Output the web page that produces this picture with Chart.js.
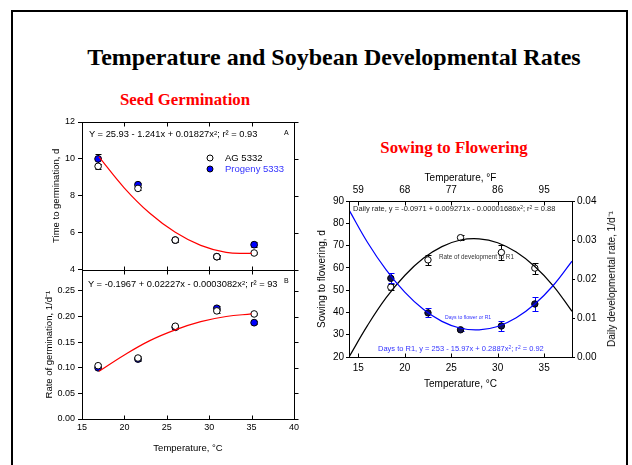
<!DOCTYPE html>
<html>
<head>
<meta charset="utf-8">
<script src="https://cdn.jsdelivr.net/npm/chart.js@4.4.1/dist/chart.umd.min.js"></script>
<style>
  body { margin: 0; background: #fff; }
  #page { position: relative; width: 632px; height: 465px; overflow: hidden; font-family: 'Liberation Sans', Arial, sans-serif; color: #000; }
  #frame { position: absolute; left: 11px; top: 10px; width: 617px; height: 470px; border: 2px solid #000; box-sizing: border-box; }
  canvas { position: absolute; }
  .t { position: absolute; white-space: nowrap; line-height: 1; transform: translateY(-50%); }
  .c { transform: translate(-50%, -50%); }
  .rot { transform: translate(-50%, -50%) rotate(-90deg); }
  .serif { font-family: 'Liberation Serif', 'Times New Roman', serif; font-weight: bold; }
  .dot { position: absolute; width: 5px; height: 5px; border-radius: 50%; border: 1px solid #000; transform: translate(-50%, -50%); }
  sup { font-size: 65%; vertical-align: 0.45em; line-height: 0; }
</style>
</head>
<body>
<div id="page">
  <div id="frame"></div>

  <div class="t c serif" style="left:334px;top:57px;font-size:24px;">Temperature and Soybean Developmental Rates</div>
  <div class="t c serif" style="left:185px;top:100px;font-size:16.8px;color:#ff0000;">Seed Germination</div>
  <div class="t c serif" style="left:454px;top:148px;font-size:16.8px;color:#ff0000;">Sowing to Flowering</div>

  <canvas id="cA" width="290" height="166" style="left:20px;top:112px;"></canvas>
  <canvas id="cB" width="290" height="196" style="left:20px;top:262px;"></canvas>
  <canvas id="cC" width="324" height="230" style="left:302px;top:168px;"></canvas>

  <!-- panel A notes -->
  <div class="t" style="left:89px;top:135px;font-size:9.3px;">Y = 25.93 - 1.241x + 0.01827x<sup>2</sup>; r² = 0.93</div>
  <div class="t" style="left:284px;top:132px;font-size:7px;">A</div>
  <div class="dot" style="left:210px;top:158px;background:#fff;"></div>
  <div class="t" style="left:225px;top:158px;font-size:9.5px;">AG 5332</div>
  <div class="dot" style="left:210px;top:169px;background:#0000ff;"></div>
  <div class="t" style="left:225px;top:169px;font-size:9.5px;color:#3333ff;">Progeny 5333</div>

  <!-- panel B notes -->
  <div class="t" style="left:88px;top:285px;font-size:9.3px;">Y = -0.1967 + 0.02227x - 0.0003082x<sup>2</sup>; r² = 93</div>
  <div class="t" style="left:284px;top:280px;font-size:7px;">B</div>

  <!-- flowering notes -->
  <div class="t" style="left:353px;top:209px;font-size:7.5px;color:#222;">Daily rate, y = -0.0971 + 0.009271x - 0.00001686x<sup>2</sup>; r<sup>2</sup> = 0.88</div>
  <div class="t" style="left:439px;top:257px;font-size:6.3px;color:#333;">Rate of development to R1</div>
  <div class="t" style="left:445px;top:318px;font-size:5.1px;color:#3333ff;">Days to flower or R1</div>
  <div class="t" style="left:378px;top:349px;font-size:7.5px;color:#3333ff;">Days to R1, y = 253 - 15.97x + 0.2887x<sup>2</sup>; r<sup>2</sup> = 0.92</div>
  <div class="t rot" style="left:612px;top:279px;font-size:10px;">Daily developmental rate, 1/d⁻¹</div>
</div>

<script>
Chart.defaults.font.family = "'Liberation Sans', Arial, sans-serif";
Chart.defaults.color = '#000';
Chart.defaults.animation = false;

// seed germination (panels A and B)
const germTemp = [16.9, 21.6, 26.0, 30.9, 35.3];
const agDays = [9.6, 8.4, 5.6, 4.7, 4.9];
const agDaysErr = [0.15, 0.1, 0.08, 0.08, 0.06];
const progDays = [10.0, 8.6, 5.6, 4.7, 5.35];
const progDaysErr = [0.25, 0.12, 0.1, 0.1, 0.12];
const agRate = [0.104, 0.119, 0.181, 0.211, 0.205];
const agRateErr = [0.003, 0.003, 0.003, 0.004, 0.002];
const progRate = [0.100, 0.117, 0.179, 0.216, 0.188];
const progRateErr = [0.003, 0.003, 0.003, 0.004, 0.003];

// fitted curves
const fitTempA = [17, 20, 23, 26, 29, 32, 35];
const fitDays = [10.11, 8.42, 7.05, 6.02, 5.31, 4.93, 4.88];
const fitRate = [0.093, 0.125, 0.153, 0.174, 0.190, 0.200, 0.205];

// sowing to flowering
const flowTemp = [18.5, 22.5, 26.0, 30.4, 34.0];
const daysR1 = [55.3, 39.8, 32.2, 33.9, 43.8];
const daysR1Err = [2.2, 2.0, 0.7, 2.2, 3.0];
const devRate = [0.0179, 0.0249, 0.0306, 0.0268, 0.0228];
const devRateErr = [0.0007, 0.0013, 0.0006, 0.0018, 0.0014];

const fitTempF = [14, 16, 18, 20, 22, 24, 26, 28, 30, 32, 34, 36, 38];
const fitDaysR1 = [86.0, 71.4, 59.1, 49.1, 41.4, 36.0, 32.9, 32.2, 33.7, 37.6, 43.8, 52.2, 63.0];
const fitDevRate = [0.0000, 0.0081, 0.0152, 0.0209, 0.0253, 0.0283, 0.0300, 0.0303, 0.0293, 0.0269, 0.0232, 0.0182, 0.0117];

const fahrenheitTicks = [59, 68, 77, 86, 95];

const pts = (xs, ys) => xs.map((x, i) => ({ x: x, y: ys[i] }));

// vertical error bars with caps, drawn under the points
const errorBars = {
  id: 'errorBars',
  beforeDatasetsDraw(chart) {
    const ctx = chart.ctx;
    chart.data.datasets.forEach((ds, di) => {
      if (!ds.errors) return;
      const meta = chart.getDatasetMeta(di);
      const xs = chart.scales[meta.xAxisID], ys = chart.scales[meta.yAxisID];
      ctx.save();
      ctx.strokeStyle = ds.errorColor || '#000';
      ctx.lineWidth = 1;
      ds.data.forEach((p, i) => {
        const e = ds.errors[i];
        const x = Math.round(xs.getPixelForValue(p.x)) + 0.5;
        const y1 = Math.round(ys.getPixelForValue(p.y - e)) + 0.5;
        const y2 = Math.round(ys.getPixelForValue(p.y + e)) + 0.5;
        ctx.beginPath();
        ctx.moveTo(x, y1); ctx.lineTo(x, y2);
        ctx.moveTo(x - 3, y1); ctx.lineTo(x + 3, y1);
        ctx.moveTo(x - 3, y2); ctx.lineTo(x + 3, y2);
        ctx.stroke();
      });
      ctx.restore();
    });
  }
};

// box round the plot area, inward x ticks, optional outward ticks on the right
const frame = {
  id: 'frame',
  afterDraw(chart, args, opts) {
    const { ctx, chartArea: a, scales } = chart;
    const L = Math.round(a.left) + 0.5, R = Math.round(a.right) + 0.5;
    const T = Math.round(a.top) + 0.5, B = Math.round(a.bottom) + 0.5;
    ctx.save();
    ctx.strokeStyle = '#000';
    ctx.lineWidth = 1;
    ctx.strokeRect(L, T, R - L, B - T);
    ctx.beginPath();
    scales.x.ticks.forEach(tk => {
      const px = Math.round(scales.x.getPixelForValue(tk.value)) + 0.5;
      if (px <= L + 1 || px >= R - 1) return;
      ctx.moveTo(px, B); ctx.lineTo(px, B - 4);
      ctx.moveTo(px, T); ctx.lineTo(px, T + 4);
    });
    if (opts.mirrorY) {
      scales.y.ticks.forEach(tk => {
        const py = Math.round(scales.y.getPixelForValue(tk.value)) + 0.5;
        ctx.moveTo(R, py); ctx.lineTo(R + 4, py);
      });
    }
    ctx.stroke();
    ctx.restore();
  }
};

const tickGrid = { drawOnChartArea: false, tickLength: 4, color: '#000' };
const noGrid = { drawOnChartArea: false, drawTicks: false };

new Chart(document.getElementById('cA'), {
  type: 'scatter',
  data: {
    datasets: [
      { data: pts(fitTempA, fitDays), showLine: true, borderColor: '#ff0000', borderWidth: 1.2, pointRadius: 0, tension: 0.4 },
      { data: pts(germTemp, agDays), errors: agDaysErr, pointRadius: 3.3, backgroundColor: '#fff', borderColor: '#000', borderWidth: 1 },
      { data: pts(germTemp, progDays), errors: progDaysErr, pointRadius: 3.4, backgroundColor: '#0000ff', borderColor: '#000', borderWidth: 1 }
    ]
  },
  options: {
    responsive: false,
    layout: { padding: { top: 10, right: 16, bottom: 0, left: 0 } },
    plugins: { legend: { display: false }, tooltip: { enabled: false }, frame: { mirrorY: true } },
    scales: {
      x: {
        min: 15, max: 40,
        ticks: { display: false, stepSize: 5 },
        grid: noGrid, border: { display: false },
        afterFit: s => { s.height = 8; }
      },
      y: {
        min: 4, max: 12,
        ticks: { stepSize: 2, font: { size: 9 }, padding: 3 },
        grid: tickGrid, border: { display: false },
        title: { display: true, text: 'Time to germination, d', font: { size: 9.5 }, padding: { top: 31, bottom: 0 } },
        afterFit: s => { s.width = 62; }
      }
    }
  },
  plugins: [errorBars, frame]
});

new Chart(document.getElementById('cB'), {
  type: 'scatter',
  data: {
    datasets: [
      { data: pts(fitTempA, fitRate), showLine: true, borderColor: '#ff0000', borderWidth: 1.2, pointRadius: 0, tension: 0.4 },
      { data: pts(germTemp, agRate), errors: agRateErr, pointRadius: 3.3, backgroundColor: '#fff', borderColor: '#000', borderWidth: 1 },
      { data: pts(germTemp, progRate), errors: progRateErr, pointRadius: 3.4, backgroundColor: '#0000ff', borderColor: '#000', borderWidth: 1 }
    ]
  },
  options: {
    responsive: false,
    layout: { padding: { top: 8, right: 16, bottom: 0, left: 0 } },
    plugins: { legend: { display: false }, tooltip: { enabled: false }, frame: { mirrorY: true } },
    scales: {
      x: {
        min: 15, max: 40,
        ticks: { stepSize: 5, font: { size: 9 }, padding: 3, maxRotation: 0 },
        grid: noGrid, border: { display: false },
        title: { display: true, text: 'Temperature, °C', font: { size: 9.5 }, padding: { top: 0, bottom: 4 } },
        afterFit: s => { s.height = 39; }
      },
      y: {
        min: 0, max: 0.29,
        ticks: { stepSize: 0.05, includeBounds: false, font: { size: 9 }, padding: 3, callback: v => v.toFixed(2) },
        grid: tickGrid, border: { display: false },
        title: { display: true, text: 'Rate of germination, 1/d⁻¹', font: { size: 9.5 }, padding: { top: 24, bottom: 0 } },
        afterFit: s => { s.width = 62; }
      }
    }
  },
  plugins: [errorBars, frame]
});

new Chart(document.getElementById('cC'), {
  type: 'scatter',
  data: {
    datasets: [
      { data: pts(fitTempF, fitDaysR1), yAxisID: 'y', showLine: true, borderColor: '#0000ff', borderWidth: 1.2, pointRadius: 0, tension: 0.4 },
      { data: pts(fitTempF, fitDevRate), yAxisID: 'y2', showLine: true, borderColor: '#000', borderWidth: 1.2, pointRadius: 0, tension: 0.4 },
      { data: pts(flowTemp, daysR1), yAxisID: 'y', errors: daysR1Err, errorColor: '#0000ff', pointRadius: 3.2, backgroundColor: '#141450', borderColor: '#000', borderWidth: 1 },
      { data: pts(flowTemp, devRate), yAxisID: 'y2', errors: devRateErr, errorColor: '#000', pointRadius: 3.2, backgroundColor: '#fff', borderColor: '#000', borderWidth: 1 }
    ]
  },
  options: {
    responsive: false,
    layout: { padding: 0 },
    plugins: { legend: { display: false }, tooltip: { enabled: false }, frame: { mirrorY: false } },
    scales: {
      x: {
        position: 'bottom', min: 14, max: 38,
        ticks: { stepSize: 5, includeBounds: false, font: { size: 10 }, padding: 5, maxRotation: 0 },
        grid: noGrid, border: { display: false },
        title: { display: true, text: 'Temperature, °C', font: { size: 10 }, padding: { top: 0, bottom: 8 } },
        afterFit: s => { s.height = 41; }
      },
      x2: {
        axis: 'x', position: 'top', min: 14, max: 38,
        ticks: { stepSize: 5, includeBounds: false, font: { size: 10 }, padding: 5, maxRotation: 0, callback: (v, i) => fahrenheitTicks[i] },
        grid: noGrid, border: { display: false },
        title: { display: true, text: 'Temperature, °F', font: { size: 10 }, padding: { top: 4, bottom: 0 } },
        afterFit: s => { s.height = 33; }
      },
      y: {
        position: 'left', min: 20, max: 90,
        ticks: { stepSize: 10, font: { size: 10 }, padding: 2 },
        grid: { drawOnChartArea: false, tickLength: 3, color: '#000' }, border: { display: false },
        title: { display: true, text: 'Sowing to flowering, d', font: { size: 10 }, padding: { top: 14, bottom: 0 } },
        afterFit: s => { s.width = 47; }
      },
      y2: {
        position: 'right', min: 0, max: 0.04,
        ticks: { stepSize: 0.01, font: { size: 10 }, padding: 2, callback: v => v.toFixed(2) },
        grid: { drawOnChartArea: false, tickLength: 3, color: '#000' }, border: { display: false },
        afterFit: s => { s.width = 54; }
      }
    }
  },
  plugins: [errorBars, frame]
});
</script>
</body>
</html>
